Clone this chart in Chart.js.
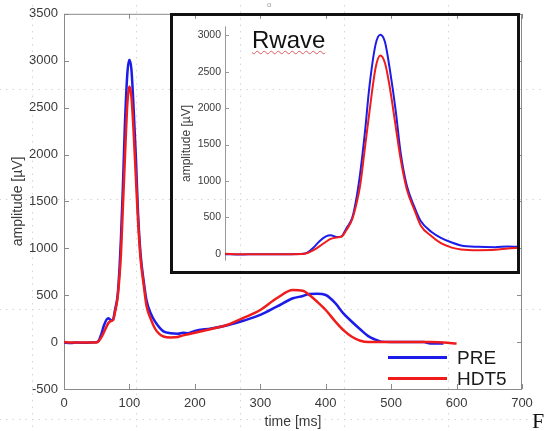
<!DOCTYPE html>
<html lang="en">
<head>
  <meta charset="UTF-8">
  <title>Rwave PRE vs HDT5</title>
  <script src="https://cdn.jsdelivr.net/npm/chart.js"></script>
  <style>
    html, body {
      margin: 0;
      padding: 0;
      width: 544px;
      height: 431px;
      overflow: hidden;
      background-color: #fff;
    }
    #page {
      position: relative;
      width: 544px;
      height: 431px;
      font-family: "Liberation Sans", Arial, sans-serif;
      background-image: url("data:image/svg+xml,%3Csvg xmlns='http://www.w3.org/2000/svg' width='104' height='110'%3E%3Cpath d='M0.5 0V110M0 0.5H104' stroke='%23d6d6d6' stroke-width='1' stroke-dasharray='1.5 5'/%3E%3C/svg%3E");
      background-position: 32px 89px;
    }
    #main { position: absolute; left: 0; top: 0; }
    #insetBox {
      position: absolute;
      left: 170px;
      top: 13px;
      width: 350px;
      height: 261px;
      border: 3px solid #111;
      box-sizing: border-box;
    }
    #inset { position: absolute; left: 0; top: 0; }
    #rwave {
      position: absolute;
      left: 252px;
      top: 28px;
      font-size: 24px;
      line-height: 1;
      color: #111;
      text-decoration: underline wavy #e05a5a;
      text-decoration-thickness: 1px;
      text-underline-offset: 2px;
    }
    #legend {
      position: absolute;
      left: 388px;
      top: 347px;
    }
    .row {
      display: flex;
      align-items: center;
      height: 21px;
    }
    .swatch {
      width: 59px;
      height: 3px;
      margin-right: 10px;
    }
    .row span { font-size: 19px; color: #1a1a1a; }
    #dot {
      position: absolute;
      left: 267px;
      top: 0px;
      font-size: 8px;
      color: #999;
    }
    #fig {
      position: absolute;
      left: 532px;
      top: 410px;
      font-family: "Liberation Serif", serif;
      font-size: 22px;
      line-height: 1;
      color: #111;
    }
  </style>
</head>
<body>
<div id="page">
  <canvas id="main" width="544" height="431"></canvas>
  <div id="insetBox">
    <canvas id="inset" width="344" height="255"></canvas>
  </div>
  <div id="rwave">Rwave</div>
  <div id="legend"></div>
  <div id="dot">o</div>
  <div id="fig">F</div>
</div>

<script>
  // time axis in ms, shared by both recordings
  const timeMs = [0, 10, 20, 30, 40, 50, 53, 57, 61, 65, 68, 72, 75, 78, 82, 85, 87, 90, 93, 97,
    100, 103, 106, 110, 113, 117, 122, 126, 133, 139, 146, 152, 163, 174, 182, 190,
    200, 225, 250, 275, 300, 325, 350, 365, 375, 387, 400, 415, 427, 440, 453, 465, 475, 485,
    500, 550, 560, 580, 600];

  // amplitude in microvolts
  const preAmplitude = [-5, -10, -5, -8, -5, 0, 15, 85, 177, 240, 255, 230, 240, 345, 500, 810, 1100, 1650, 2300, 2880,
    3010, 2910, 2550, 1950, 1400, 940, 640, 450, 300, 220, 155, 115, 95, 90, 100, 95,
    120, 145, 180, 230, 290, 377, 467, 491, 513, 515, 502, 413, 306, 217, 135, 64, 29, 5,
    0, 0, -15, -15, null];

  const hdt5Amplitude = [0, -5, -5, -5, -5, -3, 10, 50, 105, 165, 205, 225, 235, 320, 480, 720, 935, 1440, 1950, 2560,
    2725, 2620, 2300, 1735, 1310, 890, 600, 390, 240, 145, 85, 60, 50, 55, 72, 84,
    100, 140, 185, 260, 342, 467, 555, 548, 502, 430, 342, 217, 128, 57, 14, 0, 0, 0,
    0, 0, 0, -5, -15];

  const seriesNames = ['PRE', 'HDT5'];
  const seriesColors = ['#1c1ce8', '#f01c1c'];

  const mainXTicks = [0, 100, 200, 300, 400, 500, 600, 700];
  const mainYTicks = [-500, 0, 500, 1000, 1500, 2000, 2500, 3000, 3500];
  const insetYTicks = [0, 500, 1000, 1500, 2000, 2500, 3000];

  const textColor = '#3a3a3a';
  const fontFamily = '"Liberation Sans", Arial, sans-serif';
  const plain = v => String(v);

  function pts(values) {
    return timeMs.map((t, i) => ({ x: t, y: values[i] }));
  }

  function makeDatasets(width) {
    return [preAmplitude, hdt5Amplitude].map((vals, i) => ({
      label: seriesNames[i],
      data: pts(vals),
      borderColor: seriesColors[i],
      borderWidth: width,
      pointRadius: 0,
      cubicInterpolationMode: 'monotone',
      spanGaps: false,
      order: i === 0 ? 1 : 0
    }));
  }

  function fixedTicks(list) {
    return scale => { scale.ticks = list.map(v => ({ value: v })); };
  }

  // matlab style box with ticks pointing inward
  const boxTicks = {
    id: 'boxTicks',
    beforeDatasetsDraw(chart, args, opts) {
      const { ctx, chartArea: a, scales } = chart;
      const len = opts.len || 5;
      ctx.save();
      ctx.strokeStyle = opts.color || '#888';
      ctx.lineWidth = 1;
      ctx.beginPath();
      if (opts.frame) {
        ctx.rect(a.left + 0.5, a.top + 0.5, a.right - a.left - 1, a.bottom - a.top);
      } else {
        ctx.moveTo(a.left + 0.5, a.top);
        ctx.lineTo(a.left + 0.5, a.bottom);
      }
      if (opts.xTicks && scales.x) {
        scales.x.ticks.forEach(t => {
          const px = Math.round(scales.x.getPixelForValue(t.value)) + 0.5;
          ctx.moveTo(px, a.bottom); ctx.lineTo(px, a.bottom - len);
          ctx.moveTo(px, a.top); ctx.lineTo(px, a.top + len);
        });
      }
      scales.y.ticks.forEach(t => {
        const py = Math.round(scales.y.getPixelForValue(t.value)) + 0.5;
        ctx.moveTo(a.left, py); ctx.lineTo(a.left + len, py);
        if (opts.frame) { ctx.moveTo(a.right, py); ctx.lineTo(a.right - len, py); }
      });
      ctx.stroke();
      ctx.restore();
    }
  };

  const noGrid = { display: false, drawTicks: false, tickLength: 0 };

  new Chart(document.getElementById('main'), {
    type: 'line',
    data: { datasets: makeDatasets(2.5) },
    plugins: [boxTicks],
    options: {
      responsive: false,
      animation: false,
      layout: { padding: { top: 13, right: 22, left: 0, bottom: 0 } },
      plugins: {
        legend: { display: false },
        tooltip: { enabled: false },
        boxTicks: { frame: true, xTicks: true, len: 5, color: '#8a8a8a' }
      },
      scales: {
        x: {
          type: 'linear',
          min: 0,
          max: 700,
          afterBuildTicks: fixedTicks(mainXTicks),
          afterFit: s => { s.height = 42; },
          grid: noGrid,
          border: { display: false },
          ticks: { color: textColor, font: { family: fontFamily, size: 13 }, padding: 7, maxRotation: 0, callback: plain },
          title: { display: true, text: 'time [ms]', color: textColor, font: { family: fontFamily, size: 14 }, padding: { top: 0, bottom: 0 } }
        },
        y: {
          min: -500,
          max: 3500,
          afterBuildTicks: fixedTicks(mainYTicks),
          afterFit: s => { s.width = 64; },
          grid: noGrid,
          border: { display: false },
          ticks: { color: textColor, font: { family: fontFamily, size: 13 }, padding: 6, callback: plain },
          title: { display: true, text: 'amplitude [µV]', color: textColor, font: { family: fontFamily, size: 14 }, padding: { top: 10, bottom: 0 } }
        }
      }
    }
  });

  new Chart(document.getElementById('inset'), {
    type: 'line',
    data: { datasets: makeDatasets(2) },
    plugins: [boxTicks],
    options: {
      responsive: false,
      animation: false,
      layout: { padding: 0 },
      plugins: {
        legend: { display: false },
        tooltip: { enabled: false },
        boxTicks: { frame: false, xTicks: false, len: 4, color: '#999' }
      },
      scales: {
        x: {
          type: 'linear',
          min: 0,
          max: 188,
          display: false
        },
        y: {
          min: -95,
          max: 3125,
          afterBuildTicks: fixedTicks(insetYTicks),
          afterFit: s => { s.width = 52; },
          grid: noGrid,
          border: { display: false },
          ticks: { color: textColor, font: { family: fontFamily, size: 10.5 }, padding: 4, callback: plain },
          title: { display: true, text: 'amplitude [µV]', color: textColor, font: { family: fontFamily, size: 12 }, padding: { top: 6, bottom: 0 } }
        }
      }
    }
  });

  // legend built from the series
  const legend = document.getElementById('legend');
  seriesNames.forEach((name, i) => {
    const row = document.createElement('div');
    row.className = 'row';
    row.innerHTML = `<div class="swatch" style="background:${seriesColors[i]}"></div><span>${name}</span>`;
    legend.appendChild(row);
  });
</script>
</body>
</html>
